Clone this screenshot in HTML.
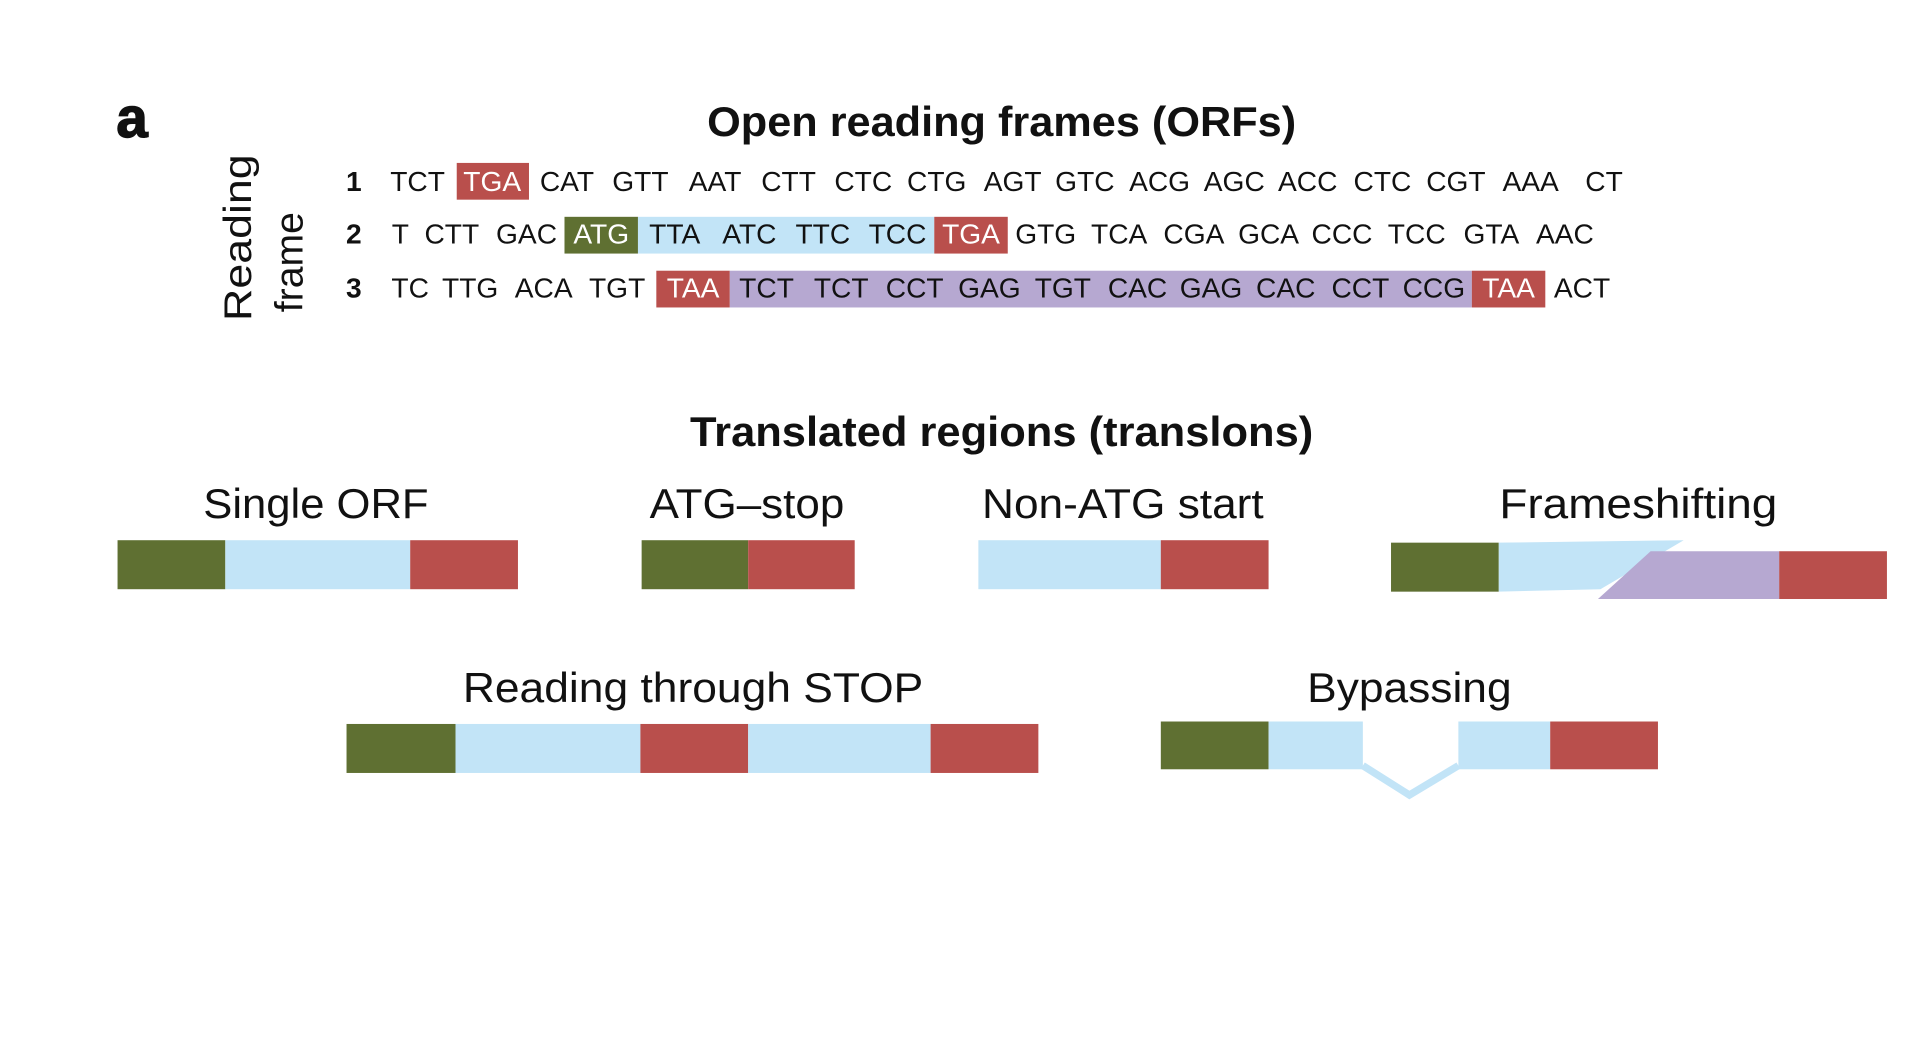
<!DOCTYPE html>
<html><head><meta charset="utf-8"><style>
html,body{margin:0;padding:0;background:#fff;width:1920px;height:1040px;overflow:hidden}
svg{display:block}
text{font-family:"Liberation Sans",sans-serif;fill:#111}
.s{font-size:23px;text-anchor:middle;dominant-baseline:central}
.w{fill:#fff}
.l{font-size:34px;text-anchor:middle}
.t{font-size:34px;font-weight:bold;text-anchor:middle}
</style></head><body>
<svg width="1920" height="1040" viewBox="0 0 1568 849" preserveAspectRatio="none">
<rect width="1568" height="849" fill="#fff"/>
<text x="95" y="112" style="font-size:46px;font-weight:bold;stroke:#111;stroke-width:1.2">a</text>
<text class="t" x="818" y="111" textLength="481" lengthAdjust="spacingAndGlyphs">Open reading frames (ORFs)</text>
<text class="l" transform="translate(205,194) rotate(-90)" style="font-size:32px" textLength="136" lengthAdjust="spacingAndGlyphs">Reading</text>
<text class="l" transform="translate(247,214) rotate(-90)" style="font-size:32px">frame</text>
<rect x="373" y="133" width="59" height="30" fill="#b94f4c"/>
<rect x="461" y="177" width="60" height="30" fill="#5f7032"/>
<rect x="521" y="177" width="242" height="30" fill="#c2e4f7"/>
<rect x="763" y="177" width="60" height="30" fill="#b94f4c"/>
<rect x="536" y="221" width="60" height="30" fill="#b94f4c"/>
<rect x="596" y="221" width="606" height="30" fill="#b6a8d1"/>
<rect x="1202" y="221" width="60" height="30" fill="#b94f4c"/>
<text class="s" x="289" y="148" style="font-weight:bold">1</text><text class="s" x="289" y="191" style="font-weight:bold">2</text><text class="s" x="289" y="235" style="font-weight:bold">3</text>
<g>
<text class="s" x="341" y="148">TCT</text><text class="s w" x="402" y="148">TGA</text><text class="s" x="463" y="148">CAT</text><text class="s" x="523" y="148">GTT</text><text class="s" x="584" y="148">AAT</text><text class="s" x="644" y="148">CTT</text><text class="s" x="705" y="148">CTC</text><text class="s" x="765" y="148">CTG</text><text class="s" x="827" y="148">AGT</text><text class="s" x="886" y="148">GTC</text><text class="s" x="947" y="148">ACG</text><text class="s" x="1008" y="148">AGC</text><text class="s" x="1068" y="148">ACC</text><text class="s" x="1129" y="148">CTC</text><text class="s" x="1189" y="148">CGT</text><text class="s" x="1250" y="148">AAA</text><text class="s" x="1310" y="148">CT</text>
<text class="s" x="327" y="191">T</text><text class="s" x="369" y="191">CTT</text><text class="s" x="430" y="191">GAC</text><text class="s w" x="491" y="191">ATG</text><text class="s" x="551" y="191">TTA</text><text class="s" x="612" y="191">ATC</text><text class="s" x="672" y="191">TTC</text><text class="s" x="733" y="191">TCC</text><text class="s w" x="793" y="191">TGA</text><text class="s" x="854" y="191">GTG</text><text class="s" x="914" y="191">TCA</text><text class="s" x="975" y="191">CGA</text><text class="s" x="1036" y="191">GCA</text><text class="s" x="1096" y="191">CCC</text><text class="s" x="1157" y="191">TCC</text><text class="s" x="1218" y="191">GTA</text><text class="s" x="1278" y="191">AAC</text>
<text class="s" x="335" y="235">TC</text><text class="s" x="384" y="235">TTG</text><text class="s" x="444" y="235">ACA</text><text class="s" x="504" y="235">TGT</text><text class="s w" x="566" y="235">TAA</text><text class="s" x="626" y="235">TCT</text><text class="s" x="687" y="235">TCT</text><text class="s" x="747" y="235">CCT</text><text class="s" x="808" y="235">GAG</text><text class="s" x="868" y="235">TGT</text><text class="s" x="929" y="235">CAC</text><text class="s" x="989" y="235">GAG</text><text class="s" x="1050" y="235">CAC</text><text class="s" x="1111" y="235">CCT</text><text class="s" x="1171" y="235">CCG</text><text class="s w" x="1232" y="235">TAA</text><text class="s" x="1292" y="235">ACT</text>
</g>
<text class="t" x="818" y="364" textLength="509" lengthAdjust="spacingAndGlyphs">Translated regions (translons)</text>
<text class="l" x="258" y="423" textLength="184" lengthAdjust="spacingAndGlyphs">Single ORF</text>
<text class="l" x="610" y="423" textLength="159" lengthAdjust="spacingAndGlyphs">ATG–stop</text>
<text class="l" x="917" y="423" textLength="230" lengthAdjust="spacingAndGlyphs">Non-ATG start</text>
<text class="l" x="1338" y="423" textLength="227" lengthAdjust="spacingAndGlyphs">Frameshifting</text>
<text class="l" x="566" y="573" textLength="376" lengthAdjust="spacingAndGlyphs">Reading through STOP</text>
<text class="l" x="1151" y="573" textLength="167" lengthAdjust="spacingAndGlyphs">Bypassing</text>
<rect x="96" y="441" width="88" height="40" fill="#5f7032"/><rect x="184" y="441" width="151" height="40" fill="#c2e4f7"/><rect x="335" y="441" width="88" height="40" fill="#b94f4c"/>
<rect x="524" y="441" width="87" height="40" fill="#5f7032"/><rect x="611" y="441" width="87" height="40" fill="#b94f4c"/>
<rect x="799" y="441" width="149" height="40" fill="#c2e4f7"/><rect x="948" y="441" width="88" height="40" fill="#b94f4c"/>
<rect x="1136" y="443" width="88" height="40" fill="#5f7032"/>
<polygon points="1224,443 1375,441 1307,481 1224,483" fill="#c2e4f7"/>
<polygon points="1305,489 1348,450 1453,450 1453,489" fill="#b6a8d1"/>
<rect x="1453" y="450" width="88" height="39" fill="#b94f4c"/>
<rect x="283" y="591" width="89" height="40" fill="#5f7032"/><rect x="372" y="591" width="151" height="40" fill="#c2e4f7"/><rect x="523" y="591" width="88" height="40" fill="#b94f4c"/><rect x="611" y="591" width="149" height="40" fill="#c2e4f7"/><rect x="760" y="591" width="88" height="40" fill="#b94f4c"/>
<rect x="948" y="589" width="88" height="39" fill="#5f7032"/><rect x="1036" y="589" width="77" height="39" fill="#c2e4f7"/><rect x="1191" y="589" width="75" height="39" fill="#c2e4f7"/><rect x="1266" y="589" width="88" height="39" fill="#b94f4c"/>
<polyline points="1113,625 1151,649 1191,625" fill="none" stroke="#c2e4f7" stroke-width="6"/>
</svg>
</body></html>
